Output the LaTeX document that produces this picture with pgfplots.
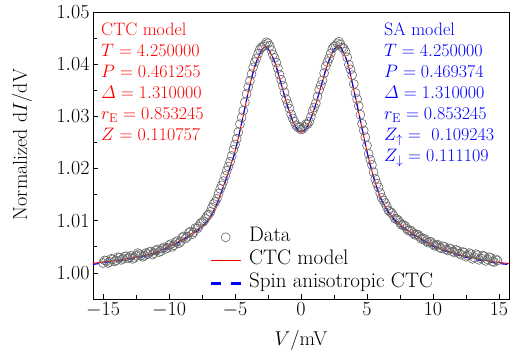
\RequirePackage{fix-cm}
\documentclass[border=0pt]{standalone}
\usepackage{amsmath}
\usepackage{pgfplots}
\pgfplotsset{compat=1.18}
\usepackage{pgfplotstable}

\pgfplotsset{
  dataleg/.style={legend image code/.code={\draw[##1] plot coordinates {(15pt,0pt)};}},
  redleg/.style={legend image code/.code={\draw[##1] (0pt,0pt) -- (30pt,0pt);}},
  blueleg/.style={legend image code/.code={\draw[##1, line width=2.8pt, dash pattern=on 10pt off 10pt] (0pt,0pt) -- (30pt,0pt);}},
}

\pgfplotstableread{
V y
-15.000 1.0019
-14.875 1.0024
-14.750 1.0023
-14.625 1.0019
-14.500 1.0021
-14.375 1.0027
-14.250 1.0026
-14.125 1.0022
-14.000 1.0024
-13.875 1.0030
-13.750 1.0029
-13.625 1.0025
-13.500 1.0027
-13.375 1.0031
-13.250 1.0032
-13.125 1.0028
-13.000 1.0030
-12.875 1.0033
-12.750 1.0027
-12.625 1.0029
-12.500 1.0033
-12.375 1.0038
-12.250 1.0036
-12.125 1.0034
-12.000 1.0031
-11.875 1.0033
-11.750 1.0038
-11.625 1.0036
-11.500 1.0040
-11.375 1.0041
-11.250 1.0035
-11.125 1.0038
-11.000 1.0043
-10.875 1.0045
-10.750 1.0040
-10.625 1.0042
-10.500 1.0047
-10.375 1.0049
-10.250 1.0046
-10.125 1.0048
-10.000 1.0053
-9.875 1.0055
-9.750 1.0050
-9.625 1.0053
-9.500 1.0059
-9.375 1.0061
-9.250 1.0057
-9.125 1.0060
-9.000 1.0068
-8.875 1.0070
-8.750 1.0066
-8.625 1.0069
-8.500 1.0077
-8.375 1.0079
-8.250 1.0074
-8.125 1.0078
-8.000 1.0086
-7.875 1.0085
-7.750 1.0089
-7.625 1.0095
-7.500 1.0097
-7.375 1.0099
-7.250 1.0104
-7.125 1.0109
-7.000 1.0112
-6.875 1.0117
-6.750 1.0125
-6.625 1.0132
-6.500 1.0136
-6.375 1.0142
-6.250 1.0152
-6.125 1.0161
-6.000 1.0168
-5.875 1.0176
-5.750 1.0186
-5.625 1.0196
-5.500 1.0204
-5.375 1.0213
-5.250 1.0224
-5.125 1.0236
-5.000 1.0246
-4.875 1.0257
-4.750 1.0270
-4.625 1.0285
-4.500 1.0298
-4.375 1.0311
-4.250 1.0327
-4.125 1.0343
-4.000 1.0356
-3.875 1.0368
-3.750 1.0381
-3.625 1.0394
-3.500 1.0404
-3.375 1.0411
-3.250 1.0420
-3.125 1.0428
-3.000 1.0432
-2.875 1.0434
-2.750 1.0437
-2.625 1.0442
-2.500 1.0440
-2.375 1.0435
-2.250 1.0427
-2.125 1.0418
-2.000 1.0412
-1.875 1.0403
-1.750 1.0392
-1.625 1.0380
-1.500 1.0370
-1.375 1.0359
-1.250 1.0346
-1.125 1.0333
-1.000 1.0324
-0.875 1.0315
-0.750 1.0304
-0.625 1.0296
-0.500 1.0290
-0.375 1.0283
-0.250 1.0279
-0.125 1.0280
0.000 1.0275
0.125 1.0276
0.250 1.0280
0.375 1.0285
0.500 1.0285
0.625 1.0290
0.750 1.0299
0.875 1.0310
1.000 1.0317
1.125 1.0325
1.250 1.0338
1.375 1.0351
1.500 1.0360
1.625 1.0369
1.750 1.0383
1.875 1.0396
2.000 1.0404
2.125 1.0411
2.250 1.0421
2.375 1.0430
2.500 1.0434
2.625 1.0436
2.750 1.0440
2.875 1.0443
3.000 1.0438
3.125 1.0432
3.250 1.0430
3.375 1.0424
3.500 1.0413
3.625 1.0399
3.750 1.0390
3.875 1.0379
4.000 1.0362
4.125 1.0345
4.250 1.0333
4.375 1.0320
4.500 1.0303
4.625 1.0286
4.750 1.0273
4.875 1.0260
5.000 1.0244
5.125 1.0228
5.250 1.0217
5.375 1.0207
5.500 1.0193
5.625 1.0180
5.750 1.0171
5.875 1.0164
6.000 1.0153
6.125 1.0144
6.250 1.0139
6.375 1.0134
6.500 1.0127
6.625 1.0120
6.750 1.0117
6.875 1.0115
7.000 1.0110
7.125 1.0104
7.250 1.0103
7.375 1.0101
7.500 1.0096
7.625 1.0092
7.750 1.0092
7.875 1.0090
8.000 1.0085
8.125 1.0081
8.250 1.0082
8.375 1.0080
8.500 1.0076
8.625 1.0073
8.750 1.0074
8.875 1.0073
9.000 1.0069
9.125 1.0065
9.250 1.0066
9.375 1.0065
9.500 1.0061
9.625 1.0058
9.750 1.0060
9.875 1.0059
10.000 1.0055
10.125 1.0052
10.250 1.0053
10.375 1.0054
10.500 1.0049
10.625 1.0047
10.750 1.0051
10.875 1.0050
11.000 1.0045
11.125 1.0043
11.250 1.0047
11.375 1.0046
11.500 1.0041
11.625 1.0039
11.750 1.0044
11.875 1.0042
12.000 1.0037
12.125 1.0035
12.250 1.0040
12.375 1.0039
12.500 1.0031
12.625 1.0033
12.750 1.0038
12.875 1.0036
13.000 1.0027
13.125 1.0030
13.250 1.0036
13.375 1.0034
13.500 1.0025
13.625 1.0028
13.750 1.0033
13.875 1.0032
14.000 1.0023
14.125 1.0026
14.250 1.0030
14.375 1.0029
14.500 1.0022
14.625 1.0021
14.750 1.0026
14.875 1.0024
}\datatable

\pgfplotstableread{
V y
-15.8 1.0018
-15.0 1.0021
-14.0 1.0024
-13.0 1.0028
-12.0 1.0033
-11.0 1.0039
-10.5 1.0045
-10.0 1.0051
-9.5 1.0057
-9.0 1.0064
-8.5 1.0072
-8.0 1.0080
-7.5 1.0090
-7.0 1.0103
-6.5 1.0125
-6.0 1.0158
-5.5 1.0193
-5.0 1.0233
-4.5 1.0287
-4.0 1.0346
-3.5 1.0396
-3.0 1.0426
-2.75 1.0433
-2.5 1.0430
-2.0 1.0405
-1.5 1.0362
-1.0 1.0318
-0.5 1.0284
0.0 1.0270
0.5 1.0282
1.0 1.0314
1.5 1.0356
2.0 1.0399
2.5 1.0428
2.8 1.0435
3.0 1.0433
3.5 1.0405
4.0 1.0351
4.5 1.0292
5.0 1.0233
5.5 1.0184
6.0 1.0146
6.5 1.0122
7.0 1.0105
7.5 1.0093
8.0 1.0083
8.5 1.0075
9.0 1.0067
9.5 1.0060
10.0 1.0053
10.5 1.0047
11.0 1.0043
12.0 1.0035
13.0 1.0029
14.0 1.0024
15.0 1.0020
15.8 1.0018
}\ctctable

\pgfplotstableread{
V y
-15.8 1.0016
-15.0 1.0019
-14.0 1.0022
-13.0 1.0026
-12.0 1.0031
-11.0 1.0037
-10.5 1.0043
-10.0 1.0049
-9.5 1.0055
-9.0 1.0062
-8.5 1.0070
-8.0 1.0078
-7.5 1.0088
-7.0 1.0102
-6.5 1.0124
-6.0 1.0157
-5.5 1.0192
-5.0 1.0232
-4.5 1.0287
-4.0 1.0346
-3.5 1.0396
-3.0 1.0426
-2.75 1.0433
-2.5 1.0430
-2.0 1.0405
-1.5 1.0362
-1.0 1.0318
-0.5 1.0284
0.0 1.0270
0.5 1.0282
1.0 1.0314
1.5 1.0356
2.0 1.0399
2.5 1.0428
2.8 1.0435
3.0 1.0433
3.5 1.0405
4.0 1.0351
4.5 1.0292
5.0 1.0232
5.5 1.0183
6.0 1.0145
6.5 1.0121
7.0 1.0104
7.5 1.0091
8.0 1.0081
8.5 1.0073
9.0 1.0065
9.5 1.0058
10.0 1.0051
10.5 1.0045
11.0 1.0041
12.0 1.0033
13.0 1.0027
14.0 1.0022
15.0 1.0018
15.8 1.0016
}\satable

\begin{document}
\begin{tikzpicture}
\useasboundingbox (-93pt,-55pt) rectangle (423pt,299pt);
\begin{axis}[
  scale only axis, width=416pt, height=287pt,
  xmin=-15.76, xmax=15.76, ymin=0.995, ymax=1.05,
  xtick={-15,-10,-5,0,5,10,15},
  ytick={1.00,1.01,1.02,1.03,1.04,1.05},
  minor xtick={-12.5,-7.5,-2.5,2.5,7.5,12.5},
  minor ytick={1.005,1.015,1.025,1.035,1.045},
  tick align=inside, tick pos=left,
  major tick length=5pt, minor tick length=4pt,
  axis line style={line width=0.8pt},
  every tick/.style={black, line width=0.7pt},
  tick label style={font=\fontsize{20}{24}\selectfont},
  y tick label style={/pgf/number format/.cd, fixed, fixed zerofill, precision=2, /tikz/.cd},
  label style={font=\fontsize{20}{24}\selectfont},
  xlabel={$V$/mV}, ylabel={Normalized d$I$/dV},
  xlabel style={at={(axis description cs:0.5,-0.143)}, anchor=center},
  ylabel style={at={(axis description cs:-0.171,0.538)}, anchor=center},
  legend cell align=left,
  legend style={at={(axis description cs:0.279,0.014)}, anchor=south west, draw=none, fill=none,
    inner sep=0pt, font=\fontsize{21}{25}\selectfont,
    nodes={inner sep=1pt, text height=15pt, text depth=6pt}, column sep=6pt},
]
\addplot[only marks, mark=o, mark size=4.5pt, mark options={draw=black!60, line width=0.6pt}, dataleg] table {\datatable};
\addlegendentry{Data}
\addplot[red, line width=1pt, smooth, redleg] table {\ctctable};
\addlegendentry{CTC model}
\addplot[blue, line width=1.1pt, smooth, dash pattern=on 7pt off 5pt, blueleg] table {\satable};
\addlegendentry{Spin anisotropic CTC}

\node[anchor=north west, inner sep=0pt, align=left, text=red, font=\fontsize{18}{21}\selectfont]
  at (axis cs:-15.15,1.0479)
  {CTC model\\ $T=4.250000$\\ $P=0.461255$\\ $\varDelta=1.310000$\\ $r_{\mathrm{E}}=0.853245$\\ $Z=0.110757$};
\node[anchor=north west, inner sep=0pt, align=left, text=blue, font=\fontsize{18}{21}\selectfont]
  at (axis cs:6.29,1.0479)
  {SA model\\ $T=4.250000$\\ $P=0.469374$\\ $\varDelta=1.310000$\\ $r_{\mathrm{E}}=0.853245$\\ $Z_{\uparrow}=\ 0.109243$\\ $Z_{\downarrow}=0.111109$};
\end{axis}
\end{tikzpicture}
\end{document}
